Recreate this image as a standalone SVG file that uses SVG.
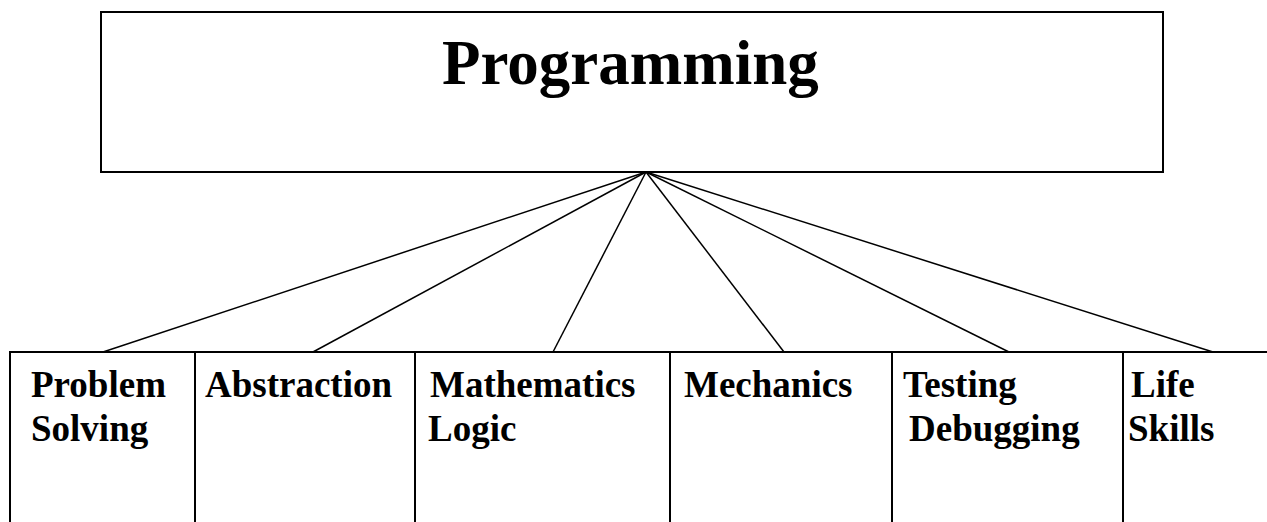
<svg xmlns="http://www.w3.org/2000/svg" width="1267" height="522" viewBox="0 0 1267 522">
<style>
.box{fill:#fff;stroke:#000;stroke-width:2}
.ln{stroke:#000;stroke-width:1.5;fill:none}
.div{stroke:#000;stroke-width:2;fill:none}
.t{font-family:"Liberation Serif","Times New Roman",serif;font-weight:bold;fill:#000}
.s{font-size:37px}
.big{font-size:63px}
</style>
<rect width="1267" height="522" fill="#fff"/>
<g id="connectors">
<line class="ln" x1="646" y1="172" x2="103" y2="352"/>
<line class="ln" x1="646" y1="172" x2="313" y2="352"/>
<line class="ln" x1="646" y1="172" x2="553" y2="352"/>
<line class="ln" x1="646" y1="172" x2="784" y2="352"/>
<line class="ln" x1="646" y1="172" x2="1009" y2="352"/>
<line class="ln" x1="646" y1="172" x2="1213" y2="352"/>
</g>
<g id="programming">
<rect class="box" x="101" y="12" width="1062" height="160"/>
<text class="t big" x="442" y="84">Programming</text>
</g>
<g id="row">
<path class="div" d="M10 522 V352 H1267"/>
</g>
<g id="problem-solving">
<text class="t s" x="31" y="397">Problem</text>
<text class="t s" x="31" y="441">Solving</text>
</g>
<g id="abstraction">
<line class="div" x1="195" y1="352" x2="195" y2="522"/>
<text class="t s" x="205" y="397">Abstraction</text>
</g>
<g id="mathematics-logic">
<line class="div" x1="415" y1="352" x2="415" y2="522"/>
<text class="t s" x="430" y="397">Mathematics</text>
<text class="t s" x="428" y="441">Logic</text>
</g>
<g id="mechanics">
<line class="div" x1="670" y1="352" x2="670" y2="522"/>
<text class="t s" x="684" y="397">Mechanics</text>
</g>
<g id="testing-debugging">
<line class="div" x1="892" y1="352" x2="892" y2="522"/>
<text class="t s" x="903" y="397">Testing</text>
<text class="t s" x="909" y="441">Debugging</text>
</g>
<g id="life-skills">
<line class="div" x1="1123" y1="352" x2="1123" y2="522"/>
<text class="t s" x="1131" y="397">Life</text>
<text class="t s" x="1128" y="441">Skills</text>
</g>
</svg>
